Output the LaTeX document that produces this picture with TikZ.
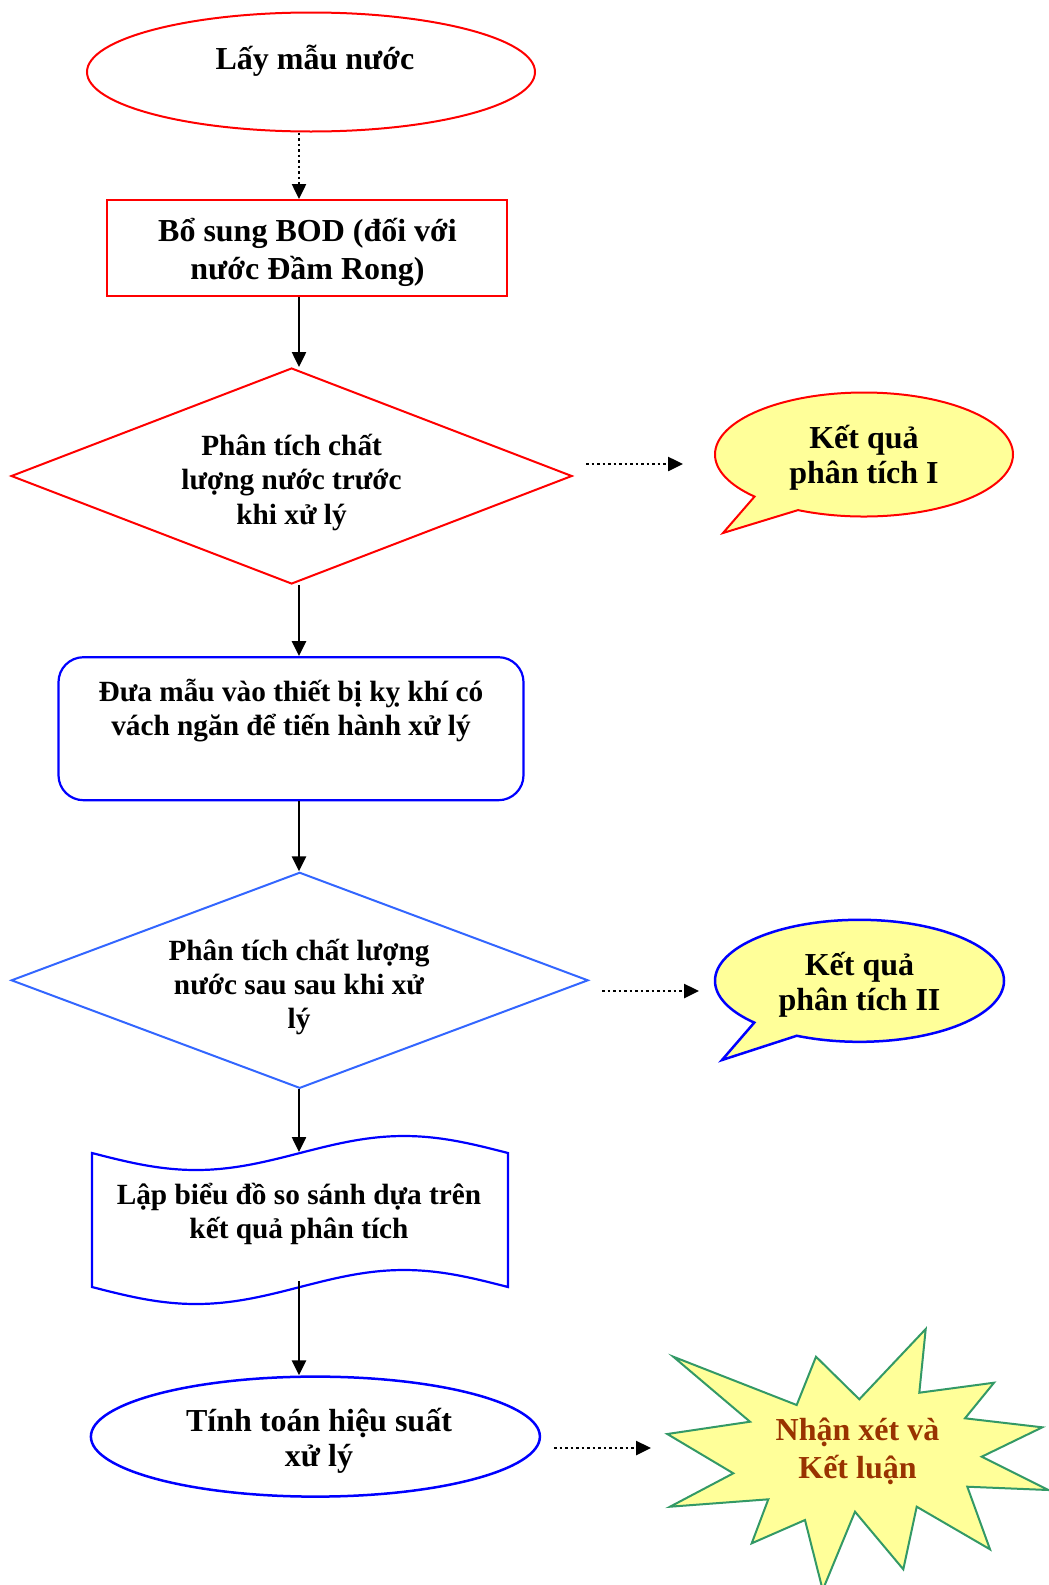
\documentclass[tikz,border=0pt]{standalone}
\usepackage{fontspec}
\setmainfont{Liberation Serif}
\usetikzlibrary{arrows.meta,shapes.geometric,shapes.callouts,calc}
\definecolor{lyellow}{HTML}{FFFF99}
\definecolor{lblue}{HTML}{3366FF}
\definecolor{sgreen}{HTML}{339966}
\definecolor{brownred}{HTML}{993300}
\begin{document}
\begin{tikzpicture}[x=1pt,y=-1pt,
  txt/.style={font=\fontsize{32}{35}\selectfont\bfseries, align=center, inner sep=0pt},
  txts/.style={font=\fontsize{29.3}{34}\selectfont\bfseries, align=center, inner sep=0pt},
  conn/.style={line width=2.5pt, -{Triangle[length=15pt,width=14pt]}},
  dotconn/.style={line width=2.5pt, dash pattern=on 2.5pt off 3pt, -{Triangle[length=15pt,width=14pt]}},
  redshape/.style={draw=red, line width=2pt, inner sep=0pt},
  blueshape/.style={draw=blue, line width=2.2pt, inner sep=0pt}
]
\useasboundingbox (0,0) rectangle (1049,1585);
\coordinate (axis) at (299,0);

% 1 ellipse
\node[ellipse, redshape, minimum width=448pt, minimum height=119pt] (e1) at (311,72) {};
\node[txt] (t1) at (315,61) {Lấy mẫu nước};

% 2 rectangle
\node[redshape, minimum width=400pt, minimum height=96pt] (r1) at (307,248) {};
\node[txt, font=\fontsize{32}{38}\selectfont\bfseries] (t2) at (307.5,252) {Bổ sung BOD (đối với\\nước Đầm Rong)};

% 3 diamond
\node[diamond, redshape, minimum width=561pt, minimum height=216pt] (d1) at (291.6,476) {};
\node[txts, font=\fontsize{29.3}{34.5}\selectfont\bfseries] (t3) at (291.6,482) {Phân tích chất\\lượng nước trước\\khi xử lý};

% callout 1
\node[ellipse callout, draw=red, fill=lyellow, line width=2pt, inner sep=0pt,
      minimum width=298pt, minimum height=124pt,
      callout absolute pointer={(723,533)}, callout pointer arc=21] (c1) at (864,454.5) {};
\node[txt] (t4) at (864,458) {Kết quả\\phân tích I};

% rounded rectangle
\node[blueshape, rounded corners=25pt, minimum width=465pt, minimum height=143pt] (rr) at (291,728.7) {};
\node[txts] (t5) at (291,711) {Đưa mẫu vào thiết bị kỵ khí có\\vách ngăn để tiến hành xử lý};

% diamond 2
\node[diamond, draw=lblue, line width=2pt, inner sep=0pt, minimum width=577pt, minimum height=216pt] (d2) at (299.7,980.3) {};
\node[txts] (t6) at (299,987) {Phân tích chất lượng\\nước sau sau khi xử\\lý};

% callout 2
\node[ellipse callout, draw=blue, fill=lyellow, line width=2.5pt, inner sep=0pt,
      minimum width=289pt, minimum height=122pt,
      callout absolute pointer={(722,1060)}, callout pointer arc=21] (c2) at (859.5,980.8) {};
\node[txt] (t7) at (859.5,985) {Kết quả\\phân tích II};

% wave document
\draw[draw=blue, line width=2.2pt] (92,1153) sin (196,1170) cos (300,1153) sin (404,1136) cos (508,1153)
  -- (508,1287) sin (404,1270) cos (300,1287) sin (196,1304) cos (92,1287) -- cycle;
\coordinate (wtop) at (299,1152);
\coordinate (wbot) at (299,1281);
\node[txts] (t8) at (299,1214) {Lập biểu đồ so sánh dựa trên\\kết quả phân tích};

% ellipse 2
\node[ellipse, blueshape, line width=2.5pt, minimum width=449pt, minimum height=120pt] (e2) at (315.4,1436.6) {};
\node[txt] (t9) at (319,1441) {Tính toán hiệu suất\\xử lý};

% starburst
\draw[draw=sgreen, fill=lyellow, line width=2pt, line join=miter]
  (673.3,1356.7) -- (796.7,1405) -- (816,1356.7) -- (859.3,1399.3) -- (925.7,1329)
  -- (919.3,1392.7) -- (994,1382.7) -- (965,1418.3) -- (1042.3,1427.3) -- (981.7,1456.7)
  -- (1048.3,1490) -- (967.3,1486.7) -- (990,1549.3) -- (916.7,1506.7) -- (903.3,1569.3)
  -- (855,1511.7) -- (822.7,1590) -- (805,1520) -- (751.7,1543.3) -- (768.3,1499.3)
  -- (670,1506.7) -- (733.3,1473.3) -- (667.3,1434) -- (750,1421.7) -- cycle;
\node[txt, text=brownred, font=\fontsize{32}{38}\selectfont\bfseries] (t10) at (857.5,1451.5) {Nhận xét và\\Kết luận};

% connectors
\draw[dotconn] (e1.south -| axis) -- (r1.north -| axis);
\draw[conn] (r1.south -| axis) -- (axis |- d1.north);
\draw[conn] (d1.south -| axis) -- (rr.north -| axis);
\draw[conn] (rr.south -| axis) -- (d2.north -| axis);
\draw[conn] (d2.south -| axis) -- (wtop);
\draw[conn] (wbot) -- (e2.north -| axis);

\coordinate (a1s) at (586,464);  \coordinate (a1e) at (683,464);
\coordinate (a2s) at (602,991);  \coordinate (a2e) at (699,991);
\coordinate (a3s) at (554,1448); \coordinate (a3e) at (651,1448);
\draw[dotconn] (a1s) -- (a1e);
\draw[dotconn] (a2s) -- (a2e);
\draw[dotconn] (a3s) -- (a3e);
\end{tikzpicture}
\end{document}
